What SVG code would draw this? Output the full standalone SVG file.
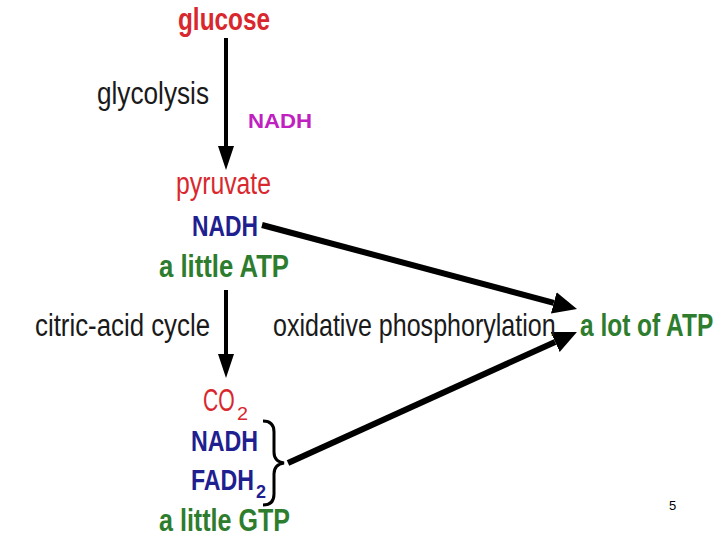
<svg xmlns="http://www.w3.org/2000/svg" width="720" height="540" viewBox="0 0 720 540">
  <style>
    text { font-family: "Liberation Sans Narrow", "Liberation Sans", Arial, sans-serif; }
    .lbl { font-size: 31px; fill: #1a1a1a; }
    .red { fill: #d8282e; }
    .blue { fill: #1f2090; font-weight: bold; font-size: 30px; }
    .green { fill: #2e7d2e; font-weight: bold; font-size: 31px; }
    .sub { font-size: 18px; }
    .conn { stroke: #000; fill: none; }
  </style>
  <defs>
    <marker id="headS" markerUnits="userSpaceOnUse" viewBox="0 0 24 16" refX="0" refY="8" markerWidth="24" markerHeight="16" orient="auto">
      <path d="M0,0 L24,8 L0,16 Z" fill="#000"/>
    </marker>
    <marker id="headL" markerUnits="userSpaceOnUse" viewBox="0 0 24 22" refX="0" refY="11" markerWidth="24" markerHeight="22" orient="auto">
      <path d="M0,0 L24,11 L0,22 Z" fill="#000"/>
    </marker>
  </defs>
  <rect width="720" height="540" fill="#fff"/>

  <g id="connectors">
    <line class="conn" x1="226" y1="38" x2="226" y2="146" stroke-width="4" marker-end="url(#headS)"/>
    <line class="conn" x1="226" y1="290" x2="226" y2="354" stroke-width="4" marker-end="url(#headS)"/>
    <line class="conn" x1="262" y1="225" x2="553.8" y2="302.8" stroke-width="6" marker-end="url(#headL)"/>
    <line class="conn" x1="288" y1="463" x2="555.1" y2="341.9" stroke-width="6" marker-end="url(#headL)"/>
    <path class="conn" stroke-width="3" d="M263,421 C271,421 274,425 274,432 L274,452 C274,458 277,462 284,463 C277,464 274,468 274,474 L274,494 C274,501 271,505 263,505"/>
  </g>

  <g id="glucose">
    <text x="178" y="30" class="red" font-size="32" font-weight="bold" textLength="92" lengthAdjust="spacingAndGlyphs">glucose</text>
  </g>
  <g id="glycolysis">
    <text x="97" y="104" class="lbl" textLength="112" lengthAdjust="spacingAndGlyphs">glycolysis</text>
  </g>
  <g id="nadh-label">
    <text x="248" y="128" font-size="20" font-weight="bold" fill="#c020c0" style="font-family:'Liberation Sans',Arial,sans-serif" textLength="64" lengthAdjust="spacingAndGlyphs">NADH</text>
  </g>
  <g id="pyruvate-products">
    <text x="176" y="194" class="red" font-size="31" textLength="95" lengthAdjust="spacingAndGlyphs">pyruvate</text>
    <text x="192" y="236" class="blue" textLength="66" lengthAdjust="spacingAndGlyphs">NADH</text>
    <text x="159" y="277" class="green" textLength="130" lengthAdjust="spacingAndGlyphs">a little ATP</text>
  </g>
  <g id="citric-acid-cycle">
    <text x="35" y="336" class="lbl" textLength="175" lengthAdjust="spacingAndGlyphs">citric-acid cycle</text>
  </g>
  <g id="oxidative-phosphorylation">
    <text transform="translate(273,336) scale(0.81,1)" class="lbl" textLength="349" lengthAdjust="spacingAndGlyphs">oxidative phosphorylation</text>
  </g>
  <g id="a-lot-of-atp">
    <text transform="translate(580,336) scale(0.77,1)" class="green" textLength="173" lengthAdjust="spacingAndGlyphs">a lot of ATP</text>
  </g>
  <g id="cycle-products">
    <text transform="translate(203,411) scale(0.69,1)" class="red" font-size="31" textLength="46" lengthAdjust="spacingAndGlyphs">CO</text>
    <text x="237" y="420" class="red sub" textLength="11" lengthAdjust="spacingAndGlyphs">2</text>
    <text x="191" y="451" class="blue" textLength="67" lengthAdjust="spacingAndGlyphs">NADH</text>
    <text transform="translate(191,490) scale(0.76,1)" class="blue" textLength="83" lengthAdjust="spacingAndGlyphs">FADH</text>
    <text x="256" y="498" class="blue sub" textLength="10" lengthAdjust="spacingAndGlyphs">2</text>
    <text x="159" y="531" class="green" font-size="30" textLength="131" lengthAdjust="spacingAndGlyphs">a little GTP</text>
  </g>
  <g id="page-number">
    <text x="669" y="510" font-size="13" fill="#000" style="font-family:'Liberation Sans',Arial,sans-serif">5</text>
  </g>
</svg>
